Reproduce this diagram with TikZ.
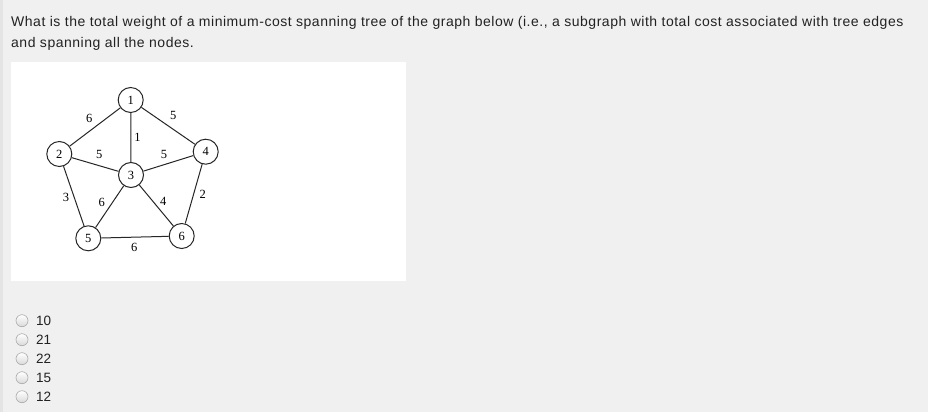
\documentclass[tikz,border=0pt]{standalone}
\usepackage{fontspec}
\setmainfont{Liberation Sans}
\newfontfamily\graphfont{Liberation Serif}
\newfontfamily\qfont[LetterSpace=3.7]{Liberation Sans}
\usepackage{tikz}
\definecolor{pagebg}{HTML}{F0F0F0}
\definecolor{pageedge}{HTML}{E4E4E4}
\definecolor{qtext}{HTML}{222222}
\definecolor{radioedge}{HTML}{A8A8A8}

\begin{document}
\begin{tikzpicture}[x=1pt, y=-1pt,
    vertex/.style={draw=black!85, circle, line width=1pt, minimum size=25pt, inner sep=0pt, font=\graphfont\fontsize{12.5}{12.5}\selectfont, fill=white},
    weight/.style={inner sep=0pt, font=\graphfont\fontsize{12.5}{12.5}\selectfont},
    qline/.style={anchor=base west, inner sep=0pt, text=qtext, font=\qfont\fontsize{14}{16}\selectfont},
    aline/.style={anchor=base west, inner sep=0pt, text=qtext, font=\fontsize{13.5}{15}\selectfont},
    radio/.style={circle, draw=radioedge, line width=0.6pt, minimum size=12pt, inner sep=0pt, top color=white, bottom color=black!15}]
  \useasboundingbox (0,0) rectangle (928,412);
  \fill[pagebg] (0,0) rectangle (928,412);
  \fill[pageedge] (0,0) rectangle (2.5,412);

  % question
  \node[qline] (q1) at (11,26.7) {What is the total weight of a minimum-cost spanning tree of the graph below (i.e., a subgraph with total cost associated with tree edges};
  \node[qline] (q2) at (11,47.5) {and spanning all the nodes.};

  % picture of the graph
  \fill[white] (11,62) rectangle (406,281);
  \node[vertex] (v1) at (130.7,100) {1};
  \node[vertex] (v2) at (59.3,154) {2};
  \node[vertex] (v3) at (131,175) {3};
  \node[vertex] (v4) at (205.7,151.7) {4};
  \node[vertex] (v5) at (88.3,238.3) {5};
  \node[vertex] (v6) at (181.7,236) {6};
  \foreach \a/\b/\w/\lx/\ly in {1/2/6/89.3/118.3, 1/4/5/173.3/115, 1/3/1/137.5/137.7,
      2/3/5/99.3/154.3, 3/4/5/164/154.3, 2/5/3/66/197.7, 3/5/6/101.7/202.7,
      3/6/4/163.3/201.7, 4/6/2/202.7/194.3, 5/6/6/134.3/247.7}
  {
    \draw[black!85, line width=1pt] (v\a) -- (v\b);
    \node[weight] (w\a\b) at (\lx,\ly) {\w};
  }

  % answers
  \foreach \ans [count=\i from 0] in {10,21,22,15,12}
  {
    \node[radio] (r\i) at (22,320.7+19*\i) {};
    \node[aline] (a\i) at (36,325.2+19*\i) {\ans};
  }
\end{tikzpicture}
\end{document}
